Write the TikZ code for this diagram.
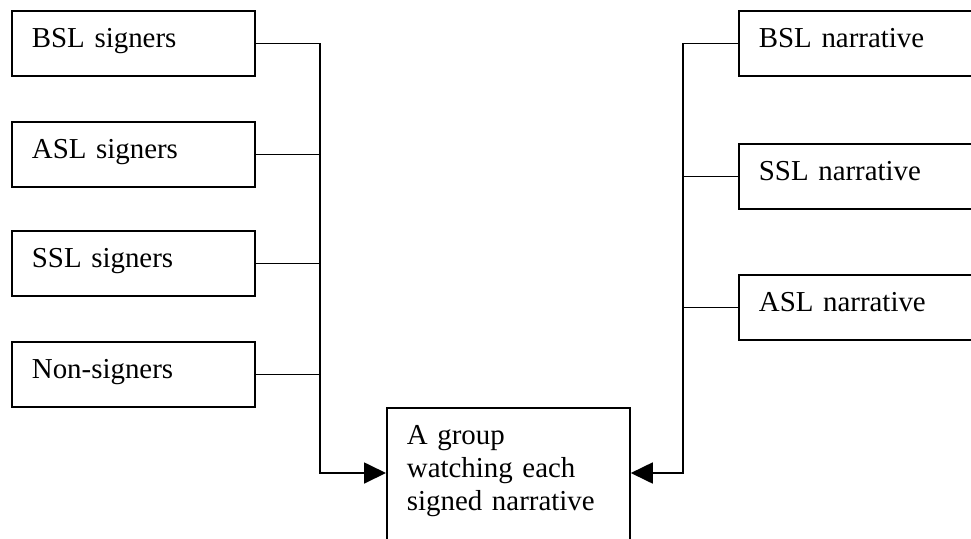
\documentclass[tikz,border=0pt]{standalone}
\usepackage{fontspec}
\setmainfont{Liberation Serif}
\usepackage{tikz}
\usetikzlibrary{arrows.meta, calc}

\begin{document}
\begin{tikzpicture}[
  x=0.5pt, y=-0.5pt,
  box/.style={draw, line width=0.9pt, anchor=north west, text width=101.5pt, align=left,
    inner xsep=10pt, inner ysep=8.9pt, text height=9.6pt, text depth=5.1pt,
    font=\fontsize{14.45pt}{16.5pt}\selectfont},
  link/.style={line width=0.9pt},
  tip/.style={link, -{Triangle[length=11pt, width=10.5pt]}},
]
  \useasboundingbox (0,0) rectangle (971,538);
  % groups of viewers
  \node[box] (bsls) at (11,10)  {BSL signers};
  \node[box] (asls) at (11,121) {ASL signers};
  \node[box] (ssls) at (11,230) {SSL signers};
  \node[box] (nons) at (11,341) {Non-signers};
  % narratives
  \node[box] (bsln) at (738,10)  {BSL narrative};
  \node[box] (ssln) at (738,143) {SSL narrative};
  \node[box] (asln) at (738,274) {ASL narrative};
  % the watching group
  \node[box, text depth=60pt] (grp) at (386,407) {A group\\watching each\\signed narrative};

  \coordinate (lturn) at (320,473);
  \coordinate (rturn) at (683,473);
  \draw[tip] (bsls.east) -| (lturn) -- (lturn -| grp.west);
  \draw[link] (asls.east) -- (asls.east -| lturn);
  \draw[link] (ssls.east) -- (ssls.east -| lturn);
  \draw[link] (nons.east) -- (nons.east -| lturn);
  \draw[tip] (bsln.west) -| (rturn) -- (rturn -| grp.east);
  \draw[link] (ssln.west) -- (ssln.west -| rturn);
  \draw[link] (asln.west) -- (asln.west -| rturn);
\end{tikzpicture}
\end{document}
